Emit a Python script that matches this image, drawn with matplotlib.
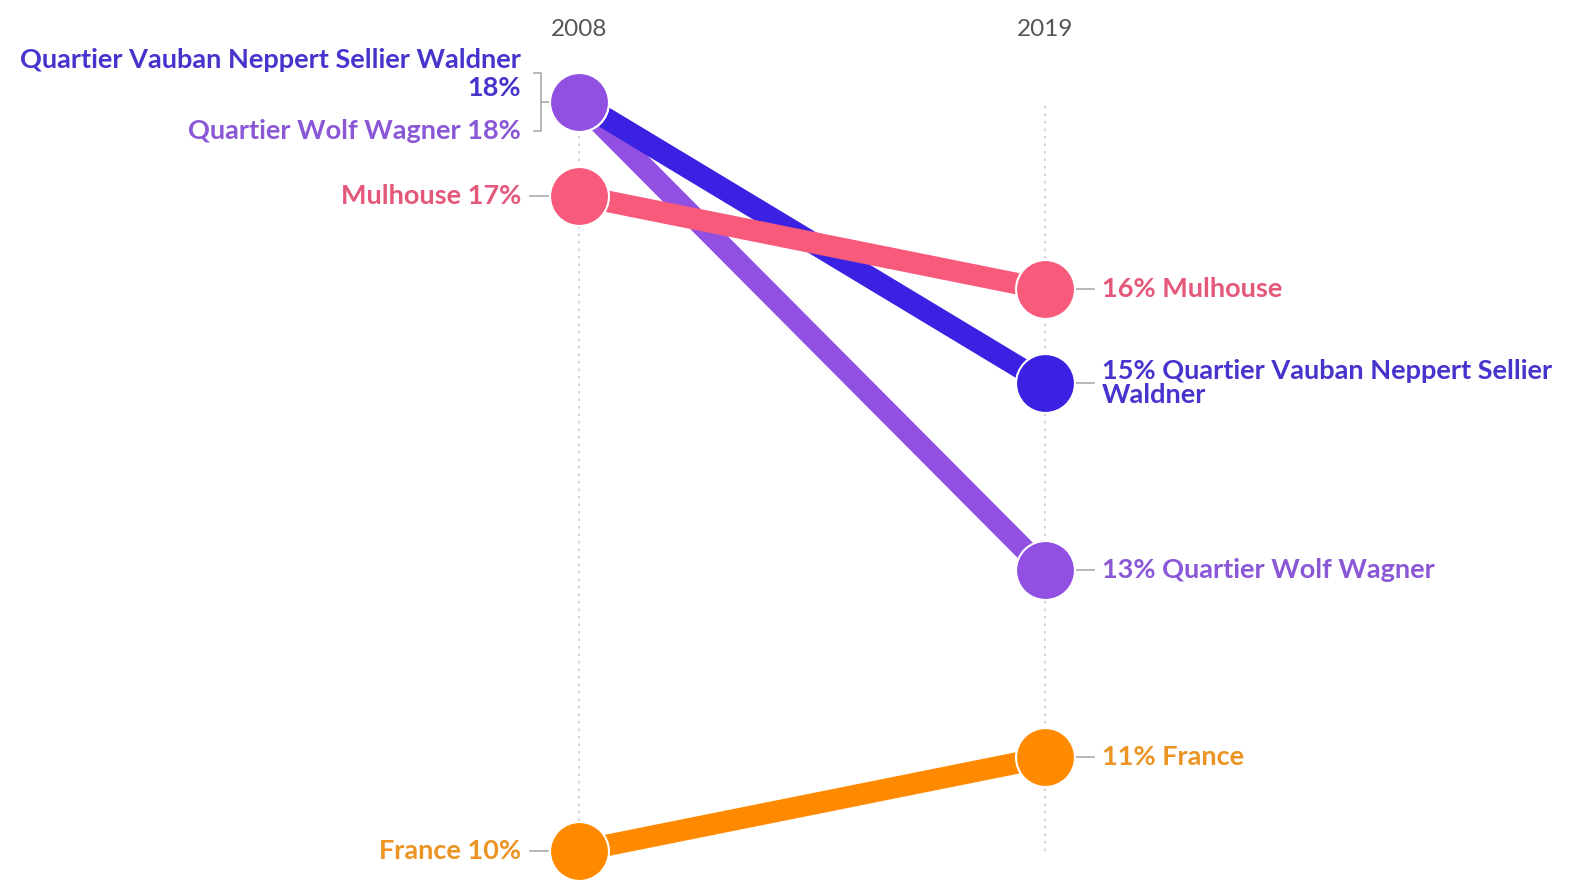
import matplotlib.pyplot as plt

years = ['2008', '2019']
names = ['Quartier Wolf Wagner', 'Quartier Vauban Neppert Sellier Waldner', 'Mulhouse', 'France']
v2008 = [18, 18, 17, 10]
v2019 = [13, 15, 16, 11]
line_cols = ['#9150e2', '#3b22e2', '#f85a7c', '#ff8a00']
text_cols = ['#8a58d6', '#4634cc', '#e4587a', '#eb9424']

plt.rcParams['font.family'] = ['Lato', 'DejaVu Sans']

fig = plt.figure(figsize=(15.7, 8.8), dpi=100)
ax = fig.add_axes([0, 0, 1, 1])
ax.set_xlim(-579 / 466, (1570 - 579) / 466)
ax.set_ylim(10 - 29 / 93.625, 18 + 102 / 93.625)
ax.axis('off')

# px -> data helpers
dx = 1 / 466.
dy = 1 / 93.625

for xi in [0, 1]:
    ax.plot([xi, xi], [10, 18], color='#cccccc', lw=1.2, ls=(0, (1.5, 3)), zorder=0)
    ax.text(xi, 18 + 73 * dy, years[xi], ha='center', va='center',
            fontsize=17.5, color='#555555')

# lines: purple bottom, then blue, then pink, France
for i in range(4):
    ax.plot([0, 1], [v2008[i], v2019[i]], color=line_cols[i], lw=15.5,
            solid_capstyle='butt', zorder=2 + i * 0.1)
for i in [1, 0, 2, 3]:
    ax.scatter([0, 1], [v2008[i], v2019[i]], s=1800, color=line_cols[i],
               edgecolor='white', linewidths=1.5, zorder=5 + (i == 0))

fs = 19.5
wt = 'bold'
# left labels
lx = -58 * dx
tk = [-49 * dx, -31 * dx]
# tied pair with bracket
bx = -38 * dx
ax.plot([bx - 7 * dx, bx, bx, bx - 7 * dx], [18 + 29 * dy, 18 + 29 * dy, 18 - 29 * dy, 18 - 29 * dy],
        color='#aaaaaa', lw=1.2, zorder=1)
ax.plot([bx, bx + 9 * dx], [18, 18], color='#aaaaaa', lw=1.2, zorder=1)
ax.text(lx, 18 + 28 * dy, names[1] + '\n' + '%d%%' % v2008[1], ha='right', va='center',
        fontsize=fs, fontweight=wt, color=text_cols[1], linespacing=1.15)
ax.text(lx, 18 - 29 * dy, names[0] + ' %d%%' % v2008[0], ha='right', va='center',
        fontsize=fs, fontweight=wt, color=text_cols[0])
for i in [2, 3]:
    ax.plot(tk, [v2008[i], v2008[i]], color='#aaaaaa', lw=1.2, zorder=1)
    ax.text(lx, v2008[i], names[i] + ' %d%%' % v2008[i], ha='right', va='center',
            fontsize=fs, fontweight=wt, color=text_cols[i])

# right labels
rx = 1 + 57 * dx
rtk = [1 + 31 * dx, 1 + 49 * dx]
for i in range(4):
    ax.plot(rtk, [v2019[i], v2019[i]], color='#aaaaaa', lw=1.2, zorder=1)
    lab = '%d%% %s' % (v2019[i], names[i])
    if i == 1:
        lab = '%d%% Quartier Vauban Neppert Sellier\nWaldner' % v2019[i]
    ax.text(rx, v2019[i], lab, ha='left', va='center', fontsize=fs,
            fontweight=wt, color=text_cols[i], linespacing=1.0)

fig.savefig('out.png', dpi=100)
